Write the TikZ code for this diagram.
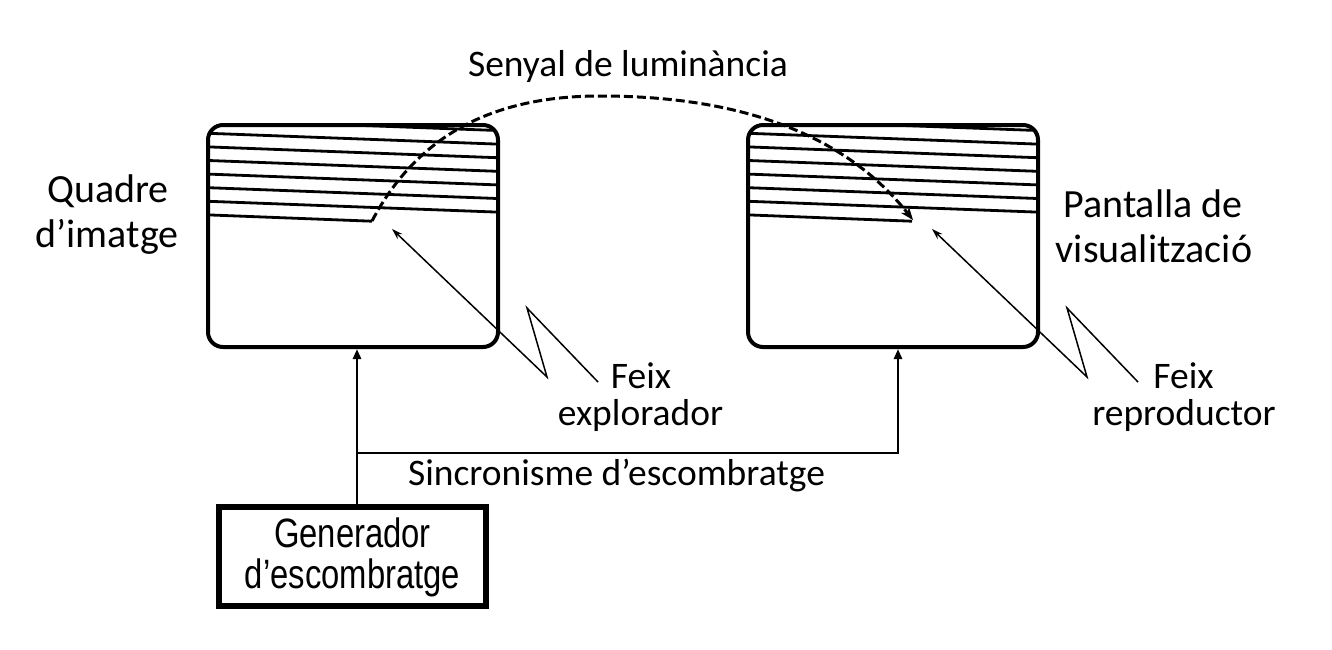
\documentclass[tikz,border=0pt]{standalone}
\usepackage{fontspec}
\setmainfont{Carlito}
\newfontfamily\arialn[FakeStretch=0.80]{Liberation Sans}
\usetikzlibrary{arrows.meta,calc}
\tikzset{
  screen/.style={draw, line width=4pt, rounded corners=15pt, minimum width=290pt, minimum height=222pt, inner sep=0pt},
  genbox/.style={draw, line width=6pt, minimum width=267pt, minimum height=99pt, inner sep=0pt},
  scan/.style={line width=2.8pt},
  beam/.style={line width=1.5pt},
  conn/.style={line width=2.8pt},
  lum/.style={line width=3pt, dash pattern=on 9pt off 4pt},
  lbl/.style={font=\fontsize{37.5}{45}\selectfont, anchor=base, inner sep=0pt},
  biglbl/.style={font=\fontsize{40}{48}\selectfont, anchor=base, inner sep=0pt},
  genlbl/.style={font=\arialn\fontsize{41}{45}\selectfont, anchor=base, inner sep=0pt}
}
\begin{document}
\begin{tikzpicture}[x=1pt,y=-1pt]
\path[use as bounding box, fill=white] (0,0) rectangle (1332,649);

% scan lines (clipped to the screens)
\foreach \dx in {0,540}{
  \begin{scope}
    \clip[rounded corners=15pt] (208+\dx,125) rectangle (498+\dx,347);
    \foreach \k in {0,...,6}{
      \draw[scan] (206+\dx,119.6+13.6*\k) -- (500+\dx,130.6+13.6*\k);
    }
    \draw[scan] (206+\dx,214.8) -- (372+\dx,221.2);
  \end{scope}
}

% screens and generator
\node[screen] (qbox) at (353,236) {};
\node[screen] (pbox) at (893,236) {};
\node[genbox] (gen) at (352.5,556.5) {};

% luminance signal
\coordinate (qs) at (372,221);
\coordinate (top) at (600,96);
\coordinate (pe) at (913,220);
\draw[lum,-{Stealth[length=13pt,width=10pt]}] (qs) .. controls (420,130) and (500,96) .. (top)
   .. controls (700,96) and (830,115) .. (pe);

% beams (zigzag with arrow)
\coordinate (qt) at (392,229);
\coordinate (qz1) at (547,377);
\coordinate (qz2) at (527,308);
\coordinate (qz3) at (598,382);
\draw[beam,-{Stealth[length=11pt,width=7pt]}] (qz3) -- (qz2) -- (qz1) -- (qt);
\coordinate (pt) at (932,229);
\coordinate (pz1) at (1087,377);
\coordinate (pz2) at (1067,308);
\coordinate (pz3) at (1138,382);
\draw[beam,-{Stealth[length=11pt,width=7pt]}] (pz3) -- (pz2) -- (pz1) -- (pt);

% synchronisation connectors
\coordinate (j) at (357,453);
\coordinate (r) at (898,453);
\draw[conn,-{Triangle[length=10pt,width=8pt]}] (gen.north -| j) -- (qbox.south -| j);
\draw[conn,-{Triangle[length=10pt,width=8pt]}] (j) -- (r) -- (pbox.south -| r);

% labels
\node[lbl] (lum) at (628,76) {Senyal de luminància};
\node[biglbl] (q1) at (108,202) {Quadre};
\node[biglbl] (q2) at (107,247) {d’imatge};
\node[biglbl] (p1) at (1153,217) {Pantalla de};
\node[biglbl] (p2) at (1154,262) {visualització};
\node[lbl] (f1) at (641,388) {Feix};
\node[lbl] (f2) at (640.5,425) {explorador};
\node[lbl] (f3) at (1183.5,388) {Feix};
\node[lbl] (f4) at (1184,425) {reproductor};
\node[lbl] (sync) at (616.5,485) {Sincronisme d’escombratge};
\node[genlbl] (g1) at (352.5,547) {Generador};
\node[genlbl] (g2) at (352.5,588) {d’escombratge};
\end{tikzpicture}
\end{document}
